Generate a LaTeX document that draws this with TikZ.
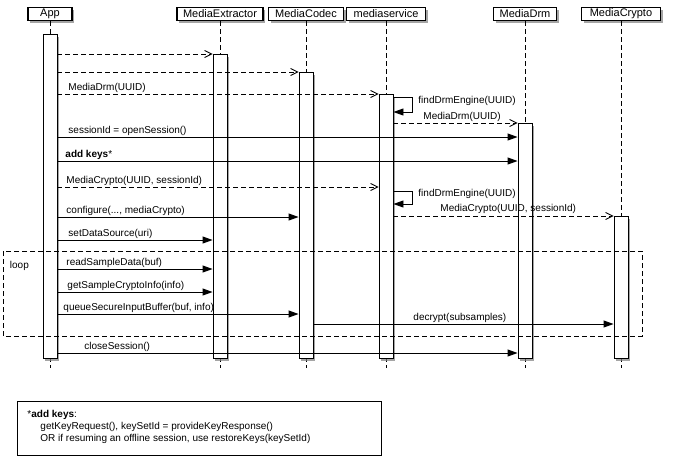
\documentclass[tikz,border=0pt]{standalone}
\usepackage{fontspec}
\setmainfont{Liberation Sans}
\usetikzlibrary{arrows.meta,shadows}

\tikzset{
  shdw/.style={drop shadow={shadow xshift=2.2pt,shadow yshift=-2.2pt,opacity=0.7}},
  head/.style={draw,fill=white,shdw,minimum height=13pt,inner sep=0pt,line width=1.1pt,font=\fontsize{11}{13}\selectfont},
  bar/.style={draw,fill=white,shdw,minimum width=14pt,inner sep=0pt,anchor=north},
  life/.style={dash pattern=on 5pt off 3pt},
  call/.style={-{Triangle[length=10pt,width=7pt]}},
  reply/.style={life,-{Straight Barb[length=7pt,width=7pt]}},
  msg/.style={anchor=base west,inner sep=0pt}
}

\begin{document}
\begin{tikzpicture}[x=1pt,y=-1pt,line width=0.9pt,font=\fontsize{10}{12}\selectfont]
\path[use as bounding box,fill=white] (0,0) rectangle (673,456);

% lifeline heads
\node[head,minimum width=44pt] (app) at (50,14) {App};
\node[head,minimum width=86pt] (ext) at (220,14) {MediaExtractor};
\node[head,minimum width=75pt] (codec) at (306,14) {MediaCodec};
\node[head,minimum width=79pt] (svc) at (386,14) {mediaservice};
\node[head,minimum width=63pt] (drm) at (525,14) {MediaDrm};
\node[head,minimum width=79pt] (crypto) at (621,14) {MediaCrypto};
\foreach \n in {app,ext,codec,svc,drm,crypto}
  \draw[life] (\n.south) -- (\n.south |- 0,368);

% activation bars
\node[bar,minimum height=324pt] (appbar) at (app.south |- 0,34) {};
\node[bar,minimum height=304pt] (extbar) at (ext.south |- 0,54) {};
\node[bar,minimum height=286pt] (codecbar) at (codec.south |- 0,72) {};
\node[bar,minimum height=264pt] (svcbar) at (svc.south |- 0,94) {};
\node[bar,minimum height=235pt] (drmbar) at (drm.south |- 0,123) {};
\node[bar,minimum height=142pt] (cryptobar) at (crypto.south |- 0,216) {};

% setup
\draw[reply] (appbar.east |- 0,54) -- (extbar.north west);
\draw[reply] (appbar.east |- 0,72) -- (codecbar.north west);
\draw[reply] (appbar.east |- 0,94) -- (svcbar.north west) node[msg] at (68,90) {MediaDrm(UUID)};
\draw[call] (svcbar.east |- 0,97) -| (412,112) -- (svcbar.east |- 0,112) node[msg] at (418,103) {findDrmEngine(UUID)};
\draw[reply] (svcbar.east |- 0,123) -- (drmbar.north west) node[msg] at (423,119) {MediaDrm(UUID)};
\draw[call] (appbar.east |- 0,137) -- (drmbar.west |- 0,137) node[msg] at (68,133) {sessionId = openSession()};
\draw[call] (appbar.east |- 0,161) -- (drmbar.west |- 0,161) node[msg] at (65,157) {\textbf{add keys}*};
\draw[reply] (appbar.east |- 0,187) -- (svcbar.west |- 0,187) node[msg] at (66,183) {MediaCrypto(UUID, sessionId)};
\draw[call] (svcbar.east |- 0,191) -| (412,204) -- (svcbar.east |- 0,204) node[msg] at (418,196) {findDrmEngine(UUID)};
\draw[reply] (svcbar.east |- 0,216) -- (cryptobar.north west) node[msg] at (440,211) {MediaCrypto(UUID, sessionId)};
\draw[call] (appbar.east |- 0,217) -- (codecbar.west |- 0,217) node[msg] at (66,213) {configure(..., mediaCrypto)};
\draw[call] (appbar.east |- 0,240) -- (extbar.west |- 0,240) node[msg] at (68,236) {setDataSource(uri)};

% loop
\draw[life] (3,251) rectangle (642,336);
\node[msg] (loop) at (9.5,268) {loop};
\draw[call] (appbar.east |- 0,269) -- (extbar.west |- 0,269) node[msg] at (66,265) {readSampleData(buf)};
\draw[call] (appbar.east |- 0,292) -- (extbar.west |- 0,292) node[msg] at (67,288) {getSampleCryptoInfo(info)};
\draw[call] (appbar.east |- 0,314) -- (codecbar.west |- 0,314) node[msg] at (63,310) {queueSecureInputBuffer(buf, info)};
\draw[call] (codecbar.east |- 0,324) -- (cryptobar.west |- 0,324) node[msg] at (413,320) {decrypt(subsamples)};

\draw[call] (appbar.east |- 0,353) -- (drmbar.west |- 0,353) node[msg] at (84,349) {closeSession()};

% note
\node[draw,anchor=north west,minimum width=364pt,minimum height=54pt] (note) at (17,401) {};
\node[msg] (notetxt) at (27,417) {*\textbf{add keys}:};
\node[msg] at (40,429) {getKeyRequest(), keySetId = provideKeyResponse()};
\node[msg] at (40,441) {OR if resuming an offline session, use restoreKeys(keySetId)};
\end{tikzpicture}
\end{document}
